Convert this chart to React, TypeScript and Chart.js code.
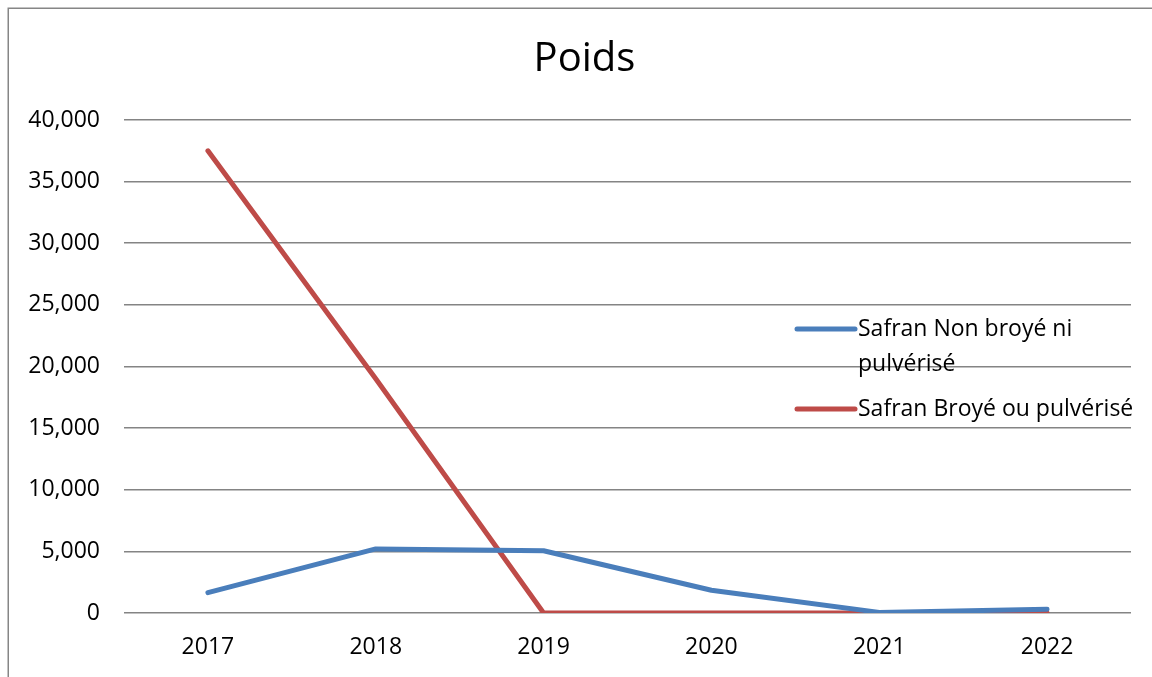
import React, { useEffect, useRef } from "react";
import { Chart, registerables } from "chart.js";

Chart.register(...registerables);

const years = ["2017", "2018", "2019", "2020", "2021", "2022"];
const nonBroye = [1650, 5200, 5050, 1850, 50, 300];
const broye = [37500, 19000, 0, 0, 0, 0];
const seriesLabels = ["Safran Non broyé ni pulvérisé", "Safran Broyé ou pulvérisé"];
const seriesColors = ["#4A7EBB", "#BE4B48"];
const titleText = "Poids";

const FONT = "'Open Sans', 'Liberation Sans', sans-serif";

const framePlugin = {
  id: "frame",
  beforeDraw(chart: any) {
    const ctx = chart.ctx;
    ctx.save();
    ctx.fillStyle = "#fff";
    ctx.fillRect(0, 0, chart.width, chart.height);
    ctx.strokeStyle = "#868686";
    ctx.lineWidth = 1.5;
    ctx.beginPath();
    ctx.moveTo(8.25, chart.height + 2);
    ctx.lineTo(8.25, 8.25);
    ctx.lineTo(chart.width + 2, 8.25);
    ctx.stroke();
    ctx.restore();
  },
};

const centeredTitlePlugin = {
  id: "centeredTitle",
  afterDraw(chart: any) {
    const ctx = chart.ctx;
    const tb = chart.titleBlock;
    const cx = (38 + chart.chartArea.right) / 2;
    const cy = tb ? tb.top + tb.height / 2 + (36 - 36) / 2 : 60;
    ctx.save();
    ctx.font = `40px ${FONT}`;
    ctx.fillStyle = "#000";
    ctx.textAlign = "center";
    ctx.textBaseline = "middle";
    ctx.fillText(titleText, cx, cy);
    ctx.restore();
  },
};

const sideLegendPlugin = {
  id: "sideLegend",
  afterDatasetsDraw(chart: any) {
    const ctx = chart.ctx;
    const x0 = 797;
    const x1 = 855;
    const tx = 858;
    const maxW = 292;
    const lineH = 35;
    let y = 329;
    ctx.save();
    ctx.font = `23px ${FONT}`;
    ctx.textBaseline = "middle";
    ctx.textAlign = "left";
    chart.data.datasets.forEach((ds: any) => {
      const words = String(ds.label).split(" ");
      const lines: string[] = [];
      let cur = "";
      words.forEach((w: string) => {
        const t = cur ? cur + " " + w : w;
        if (ctx.measureText(t).width > maxW && cur) {
          lines.push(cur);
          cur = w;
        } else cur = t;
      });
      if (cur) lines.push(cur);
      ctx.strokeStyle = ds.borderColor;
      ctx.lineWidth = 5;
      ctx.lineCap = "round";
      ctx.beginPath();
      ctx.moveTo(x0, y);
      ctx.lineTo(x1, y);
      ctx.stroke();
      ctx.fillStyle = "#000";
      lines.forEach((l, i) => ctx.fillText(l, tx, y + i * lineH));
      y += (lines.length - 1) * lineH + 45;
    });
    ctx.restore();
  },
};

export default function App() {
  const ref = useRef<HTMLCanvasElement | null>(null);
  useEffect(() => {
    if (!ref.current) return;
    const chart = new Chart(ref.current, {
      type: "line",
      data: {
        labels: years,
        datasets: [
          {
            label: seriesLabels[0],
            data: nonBroye,
            borderColor: seriesColors[0],
            backgroundColor: seriesColors[0],
            borderWidth: 5,
            pointRadius: 0,
            borderCapStyle: "round",
            borderJoinStyle: "round",
            tension: 0,
          },
          {
            label: seriesLabels[1],
            data: broye,
            borderColor: seriesColors[1],
            backgroundColor: seriesColors[1],
            borderWidth: 5,
            pointRadius: 0,
            borderCapStyle: "round",
            borderJoinStyle: "round",
            tension: 0,
          },
        ],
      },
      options: {
        animation: false,
        responsive: false,
        locale: "en-US",
        layout: { padding: { left: 0, right: 21, top: 0, bottom: 0 } },
        plugins: {
          legend: { display: false },
          tooltip: { enabled: false },
          title: {
            display: true,
            text: titleText,
            color: "rgba(0,0,0,0)",
            font: { family: FONT, size: 40, weight: "normal" },
            padding: { top: 36, bottom: 36 },
          },
        },
        scales: {
          x: {
            offset: true,
            grid: { display: false, drawTicks: false },
            border: { display: false },
            ticks: {
              color: "#000",
              font: { family: FONT, size: 23 },
              padding: 21,
              maxRotation: 0,
            },
            afterFit: (s: any) => {
              s.height = 64;
            },
          },
          y: {
            min: 0,
            max: 40000,
            grid: { color: "#848484", lineWidth: 1.6, drawTicks: false },
            border: { display: false },
            ticks: {
              stepSize: 5000,
              color: "#000",
              font: { family: FONT, size: 23 },
              padding: 24,
              callback: (v: any) => Number(v).toLocaleString("en-US"),
            },
            afterFit: (s: any) => {
              s.width = 124;
            },
          },
        },
      },
      plugins: [framePlugin, centeredTitlePlugin, sideLegendPlugin],
    });
    return () => chart.destroy();
  }, []);
  return (
    <div style={{ position: "absolute", left: 0, top: 0, width: 1152, height: 677, overflow: "hidden" }}>
      <canvas ref={ref} width={1152} height={677} style={{ display: "block" }} />
    </div>
  );
}
